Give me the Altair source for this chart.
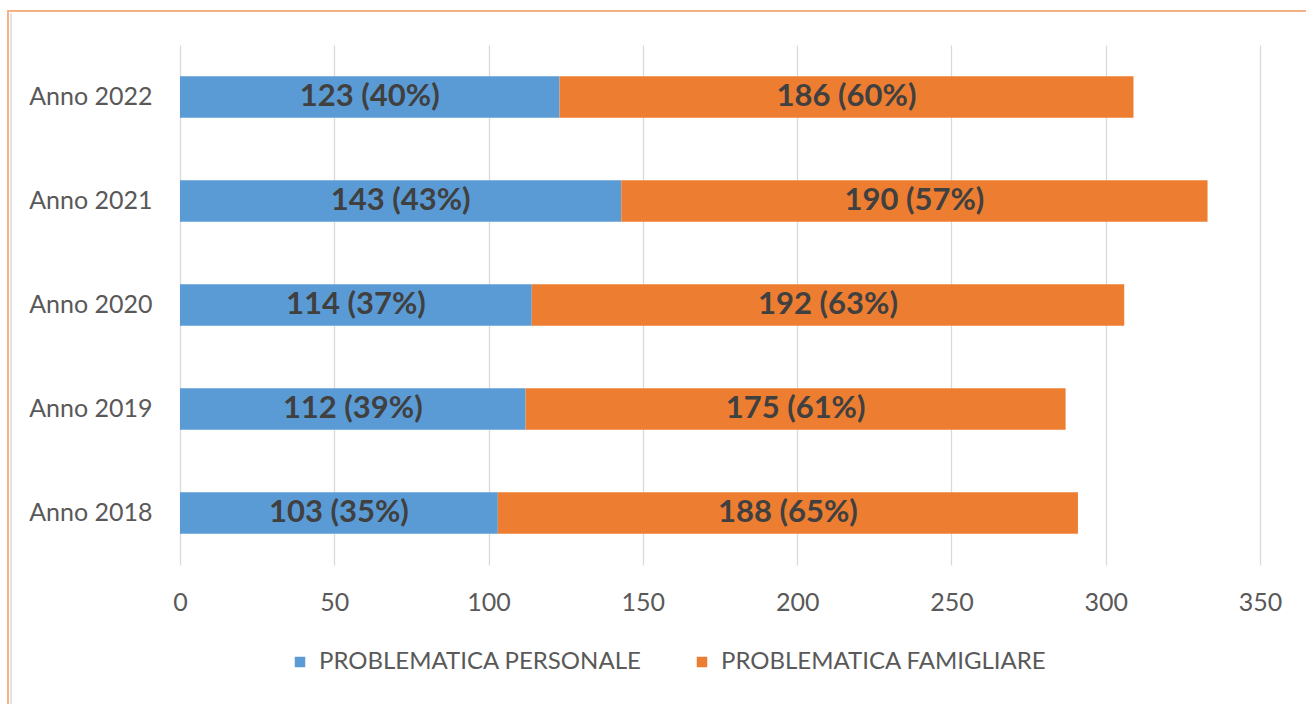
import altair as alt
import pandas as pd

years = ["Anno 2018", "Anno 2019", "Anno 2020", "Anno 2021", "Anno 2022"]
personale = [103, 112, 114, 143, 123]
personale_pct = [35, 39, 37, 43, 40]
famigliare = [188, 175, 192, 190, 186]
famigliare_pct = [65, 61, 63, 57, 60]
series = ["PROBLEMATICA PERSONALE", "PROBLEMATICA FAMIGLIARE"]
colors = ["#5B9BD5", "#ED7D31"]
x_ticks = [0, 50, 100, 150, 200, 250, 300, 350]

rows = []
for i, y in enumerate(years):
    rows.append({"year": y, "series": series[0], "order": 0, "value": personale[i],
                 "label": f"{personale[i]} ({personale_pct[i]}%)"})
    rows.append({"year": y, "series": series[1], "order": 1, "value": famigliare[i],
                 "label": f"{famigliare[i]} ({famigliare_pct[i]}%)"})
df = pd.DataFrame(rows)

FONT = "Lato"
y_order = years[::-1]

base = alt.Chart(df).transform_stack(
    stack="value", groupby=["year"], as_=["x0", "x1"],
    sort=[alt.SortField("order", order="ascending")]
).transform_calculate(mid="(datum.x0 + datum.x1) / 2")

yenc = alt.Y("year:N", sort=y_order, title=None,
             scale=alt.Scale(paddingInner=0.6, paddingOuter=0.3),
             axis=alt.Axis(labelFont=FONT, labelFontSize=25, labelColor="#595959",
                           labelPadding=28, ticks=False, domain=False, grid=False))

bars = base.mark_bar().encode(
    x=alt.X("x0:Q", title=None,
            scale=alt.Scale(domain=[0, 350], nice=False),
            axis=alt.Axis(values=x_ticks, labelFont=FONT, labelFontSize=25,
                          labelColor="#595959", labelPadding=25, ticks=False,
                          labelFlush=False, domain=False, grid=True,
                          gridColor="#D9D9D9", gridWidth=1.3)),
    x2="x1:Q",
    y=yenc,
    color=alt.Color("series:N", scale=alt.Scale(domain=series, range=colors),
                    legend=alt.Legend(title=None, orient="none", legendX=108, legendY=605,
                                      direction="horizontal", symbolType="square",
                                      symbolSize=110, symbolStrokeWidth=0,
                                      labelFont=FONT, labelFontSize=24, labelColor="#595959",
                                      columnPadding=48, labelOffset=7, labelLimit=500)),
)

texts = base.mark_text(font=FONT, fontSize=31, fontWeight="bold", color="#404040",
                       baseline="middle", align="center").encode(
    x="mid:Q",
    y=alt.Y("year:N", sort=y_order),
    text="label:N",
)

frame_data = alt.Data(values=[{"k": 1}])
border_left = alt.Chart(frame_data).mark_rule(color="#F4B183", strokeWidth=2).encode(
    x=alt.value(-172), x2=alt.value(-172), y=alt.value(-34), y2=alt.value(700))
border_top = alt.Chart(frame_data).mark_rule(color="#F4B183", strokeWidth=2).encode(
    x=alt.value(-173), x2=alt.value(1200), y=alt.value(-34), y2=alt.value(-34))
shadow_left = alt.Chart(frame_data).mark_rule(color="#E3E3E3", strokeWidth=2).encode(
    x=alt.value(-169), x2=alt.value(-169), y=alt.value(-32), y2=alt.value(700))

chart = alt.layer(bars, texts, border_left, border_top, shadow_left).properties(
    width=1080, height=520,
    autosize=alt.AutoSizeParams(type="none"),
    padding={"left": 180, "top": 45, "right": 46, "bottom": 139},
).configure(background="white").configure_view(stroke=None)

chart.save("out.html", embed_options={"renderer": "svg", "actions": False})
